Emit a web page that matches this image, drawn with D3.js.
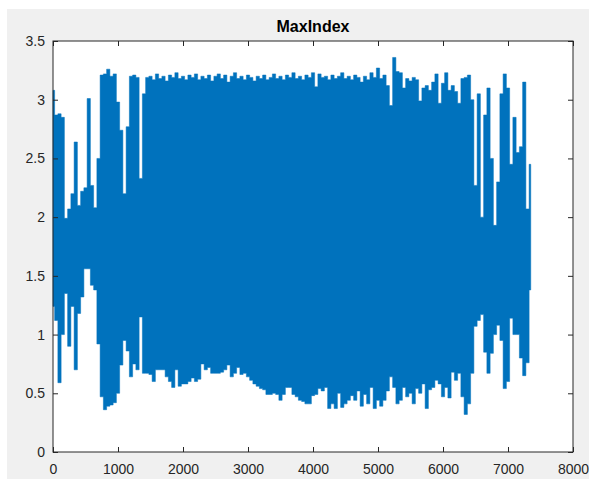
<!DOCTYPE html>
<html lang="en">
<head>
    <meta charset="UTF-8">
    <title>MaxIndex</title>
    <script src="https://d3js.org/d3.v7.min.js"></script>
    <style>
        body, html {
            margin: 0;
            padding: 0;
            overflow: hidden;
            background: #ffffff;
        }
        svg {
            display: block;
            font-family: "Liberation Sans", Arial, Helvetica, sans-serif;
        }
        .tick text {
            font-size: 14px;
            fill: #262626;
        }
        .title {
            font-size: 16px;
            font-weight: bold;
            fill: #000;
            text-anchor: middle;
        }
    </style>
</head>
<body>
    <svg width="589" height="479" id="chart"></svg>

    <script>
        // sample positions every 50 indices, 0 .. 7350
        const step = 50;

        // upper envelope of the signal
        const upper = [
            3.08, 2.87, 2.88, 2.85, 1.99, 2.07, 2.20, 2.64, 2.10, 2.22,
            2.25, 3.01, 2.27, 2.08, 2.50, 3.21, 3.22, 3.26, 3.20, 3.22,
            2.98, 2.74, 2.20, 2.77, 3.20, 3.21, 3.19, 2.33, 3.05, 3.19,
            3.20, 3.17, 3.22, 3.18, 3.20, 3.16, 3.21, 3.19, 3.23, 3.18,
            3.20, 3.17, 3.21, 3.19, 3.22, 3.17, 3.20, 3.18, 3.21, 3.16,
            3.20, 3.22, 3.18, 3.21, 3.15, 3.20, 3.23, 3.18, 3.20, 3.17,
            3.21, 3.19, 3.16, 3.20, 3.18, 3.21, 3.17, 3.19, 3.22, 3.18,
            3.20, 3.17, 3.21, 3.19, 3.23, 3.18, 3.20, 3.17, 3.21, 3.19,
            3.23, 3.11, 3.22, 3.19, 3.20, 3.17, 3.21, 3.18, 3.20, 3.23,
            3.18, 3.20, 3.17, 3.21, 3.19, 3.15, 3.20, 3.17, 3.23, 3.19,
            3.27, 3.18, 3.21, 3.12, 2.95, 3.36, 3.24, 3.23, 3.10, 3.18,
            3.16, 3.19, 3.17, 2.99, 3.10, 3.12, 3.08, 3.15, 3.22, 2.97,
            3.14, 3.23, 3.08, 3.12, 3.07, 2.97, 3.18, 3.19, 3.21, 3.00,
            2.27, 3.05, 2.00, 2.87, 3.10, 2.50, 1.93, 2.30, 3.05, 3.22,
            3.10, 2.45, 2.85, 2.55, 2.60, 3.15, 2.07, 2.45
        ];

        // lower envelope of the signal
        const lower = [
            1.24, 1.12, 0.59, 1.00, 1.35, 0.90, 1.24, 0.70, 1.18, 1.32,
            1.56, 1.56, 1.42, 1.38, 0.92, 0.47, 0.36, 0.39, 0.40, 0.42,
            0.50, 0.74, 0.95, 0.86, 0.64, 0.75, 0.70, 1.15, 0.67, 0.67,
            0.66, 0.60, 0.70, 0.70, 0.70, 0.64, 0.60, 0.55, 0.70, 0.56,
            0.58, 0.58, 0.60, 0.63, 0.60, 0.62, 0.75, 0.70, 0.72, 0.67,
            0.67, 0.67, 0.68, 0.70, 0.74, 0.64, 0.67, 0.72, 0.66, 0.67,
            0.64, 0.61, 0.58, 0.56, 0.54, 0.53, 0.49, 0.49, 0.50, 0.49,
            0.44, 0.49, 0.55, 0.55, 0.49, 0.47, 0.44, 0.43, 0.41, 0.41,
            0.48, 0.49, 0.54, 0.52, 0.55, 0.37, 0.41, 0.37, 0.50, 0.38,
            0.41, 0.44, 0.48, 0.44, 0.52, 0.39, 0.49, 0.41, 0.55, 0.37,
            0.44, 0.39, 0.44, 0.52, 0.64, 0.55, 0.41, 0.44, 0.55, 0.47,
            0.50, 0.41, 0.54, 0.50, 0.58, 0.37, 0.53, 0.55, 0.61, 0.58,
            0.47, 0.55, 0.46, 0.68, 0.61, 0.67, 0.47, 0.32, 0.41, 0.67,
            1.07, 1.12, 1.17, 0.85, 0.67, 0.84, 1.00, 1.08, 0.95, 0.54,
            0.60, 1.14, 1.00, 1.00, 0.80, 0.65, 0.76, 1.38
        ];

        const xTicks = [0, 1000, 2000, 3000, 4000, 5000, 6000, 7000, 8000];
        const yTicks = [0, 0.5, 1, 1.5, 2, 2.5, 3, 3.5];

        const data = upper.map((u, i) => ({ x: i * step, hi: u, lo: lower[i] }));

        const svg = d3.select("#chart");

        // grey figure background
        svg.append("rect")
            .attr("x", 7).attr("y", 9)
            .attr("width", 582).attr("height", 470)
            .attr("fill", "#f0f0f0");

        const plotLeft = 53, plotTop = 41, plotRight = 573, plotBottom = 452;

        const x = d3.scaleLinear().domain([0, 8000]).range([plotLeft, plotRight]);
        const y = d3.scaleLinear().domain([0, 3.5]).range([plotBottom, plotTop]);

        svg.append("rect")
            .attr("x", plotLeft).attr("y", plotTop)
            .attr("width", plotRight - plotLeft).attr("height", plotBottom - plotTop)
            .attr("fill", "#ffffff");

        // dense signal drawn as its envelope band, vertical edges like the original
        const area = d3.area()
            .x(d => x(d.x))
            .y0(d => y(d.lo))
            .y1(d => y(d.hi))
            .curve(d3.curveStep);

        svg.append("path")
            .datum(data)
            .attr("d", area)
            .attr("fill", "#0072BD")
            .attr("stroke", "#0072BD")
            .attr("stroke-width", 0.5);

        // axes, ticks inside like matlab
        const fmt = d3.format("");
        svg.append("g")
            .attr("transform", `translate(0,${plotBottom})`)
            .call(d3.axisBottom(x).tickValues(xTicks).tickSizeInner(-5).tickSizeOuter(0).tickPadding(12).tickFormat(fmt));
        svg.append("g")
            .attr("transform", `translate(0,${plotTop})`)
            .call(d3.axisTop(x).tickValues(xTicks).tickSizeInner(-5).tickSizeOuter(0).tickFormat(""));
        svg.append("g")
            .attr("transform", `translate(${plotLeft},0)`)
            .call(d3.axisLeft(y).tickValues(yTicks).tickSizeInner(-5).tickSizeOuter(0).tickPadding(8).tickFormat(fmt));
        svg.append("g")
            .attr("transform", `translate(${plotRight},0)`)
            .call(d3.axisRight(y).tickValues(yTicks).tickSizeInner(-5).tickSizeOuter(0).tickFormat(""));

        svg.selectAll(".domain").remove();
        svg.selectAll(".tick line").attr("stroke", "#262626");
        svg.selectAll(".tick text").attr("font-family", null).attr("font-size", null);

        svg.append("rect")
            .attr("x", plotLeft).attr("y", plotTop)
            .attr("width", plotRight - plotLeft).attr("height", plotBottom - plotTop)
            .attr("fill", "none")
            .attr("stroke", "#262626")
            .attr("stroke-width", 1);

        svg.append("text")
            .attr("class", "title")
            .attr("x", (plotLeft + plotRight) / 2)
            .attr("y", 32)
            .text("MaxIndex");
    </script>
</body>
</html>
